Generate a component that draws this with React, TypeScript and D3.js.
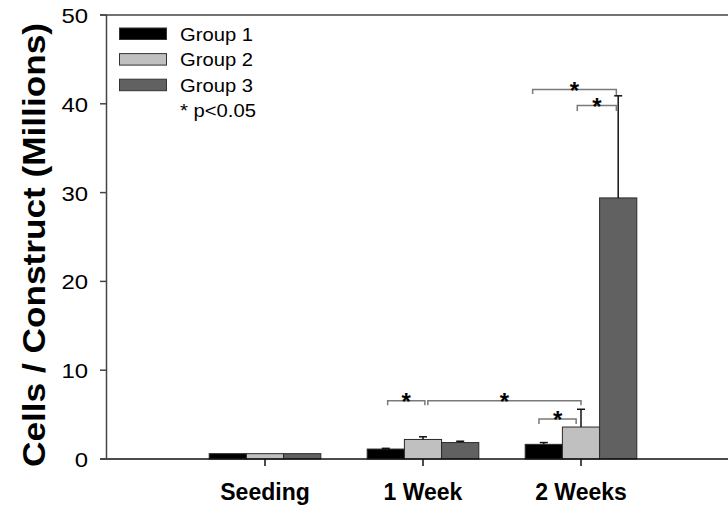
import React from "react";
import * as d3 from "d3";

const categories = ["Seeding", "1 Week", "2 Weeks"];
const groups = ["Group 1", "Group 2", "Group 3"];
const groupColors = ["#000000", "#c0c0c0", "#616161"];
// mean values (millions) per category, per group
const group1 = [0.6, 1.12, 1.65];
const group2 = [0.6, 2.2, 3.6];
const group3 = [0.6, 1.85, 29.4];
// upper error values (mean + sd)
const group1Err = [null, 1.2, 1.85];
const group2Err = [null, 2.5, 5.6];
const group3Err = [null, 2.0, 40.9];
const yTicks = [0, 10, 20, 30, 40, 50];
// significance brackets: from/to = [category index, fractional group position], y = data value
const brackets = [
  { from: [1, 0.05], to: [1, 1.05], y: 6.55, dropL: 0.5, dropR: 0.5 },
  { from: [1, 1.13], to: [2, 1.0], y: 6.55, dropL: 0.5, dropR: 0.5 },
  { from: [2, -0.13], to: [2, 0.87], y: 4.5, dropL: 0.55, dropR: 0.55 },
  { from: [2, -0.3], to: [2, 1.95], y: 41.6, dropL: 0.5, dropR: 0.6 },
  { from: [2, 0.9], to: [2, 1.95], y: 39.8, dropL: 0.6, dropR: 0.6 },
];

const W = 728;
const H = 507;

export default function App() {
  const axisX = 106.5;
  const y = d3.scaleLinear().domain([0, 50]).range([459, 15]);
  const x = d3.scalePoint<string>().domain(categories).range([107, 739]).padding(1);
  const barW = 37.2;
  const g = d3.scaleBand<number>().domain([0, 1, 2]).range([-1.5 * barW, 1.5 * barW]).padding(0);
  const values = [group1, group2, group3];
  const errs = [group1Err, group2Err, group3Err];
  const gx = (ci: number, pos: number) => (x(categories[ci]) as number) + (pos - 1) * barW;

  return (
    <svg
      width={W}
      height={H}
      style={{ position: "absolute", left: 0, top: 0, background: "#fff" }}
      fontFamily="'Liberation Sans', Arial, sans-serif"
    >
      <rect x={0} y={0} width={W} height={H} fill="#fff" />
      {/* bars */}
      {categories.map((c, ci) =>
        groups.map((gr, gi) => {
          const x0 = (x(c) as number) + (g(gi) as number);
          const v = values[gi][ci];
          return (
            <rect
              key={c + gr}
              x={x0}
              y={y(v)}
              width={g.bandwidth()}
              height={y(0) - y(v)}
              fill={groupColors[gi]}
              stroke="#2a2a2a"
              strokeWidth={1}
            />
          );
        })
      )}
      {/* error bars */}
      {categories.map((c, ci) =>
        groups.map((gr, gi) => {
          const e = errs[gi][ci];
          if (e == null) return null;
          const cx = (x(c) as number) + (g(gi) as number) + g.bandwidth() / 2;
          const v = values[gi][ci];
          return (
            <g key={"e" + c + gr} stroke="#111" strokeWidth={1.5}>
              <line x1={cx} x2={cx} y1={y(v)} y2={y(e)} />
              <line x1={cx - 4} x2={cx + 4} y1={y(e)} y2={y(e)} />
            </g>
          );
        })
      )}
      {/* brackets */}
      {brackets.map((b, i) => {
        const x1 = gx(b.from[0], b.from[1]);
        const x2 = gx(b.to[0], b.to[1]);
        const yy = y(b.y);
        const yl = y(b.y - b.dropL);
        const yr = y(b.y - b.dropR);
        return (
          <g key={"b" + i}>
            <path
              d={`M${x1},${yl}V${yy}H${x2}V${yr}`}
              fill="none"
              stroke="#7a7a7a"
              strokeWidth={1.5}
            />
            <text x={(x1 + x2) / 2} y={yy + 9} textAnchor="middle" fontSize={24} fontWeight="bold" fill="#000">
              *
            </text>
          </g>
        );
      })}
      {/* axes */}
      <line x1={100} x2={W} y1={y(0)} y2={y(0)} stroke="#111" strokeWidth={1.5} />
      <line x1={100} x2={W} y1={y(50)} y2={y(50)} stroke="#444" strokeWidth={1.5} />
      <line x1={axisX} x2={axisX} y1={y(50)} y2={y(0)} stroke="#444" strokeWidth={1.5} />
      {yTicks.map((t) => (
        <g key={"yt" + t}>
          <line x1={100} x2={axisX} y1={y(t)} y2={y(t)} stroke="#444" strokeWidth={1.5} />
          <text
            x={88}
            y={y(t) + 8}
            textAnchor="end"
            fontSize={21}
            textLength={String(t).length * 13.3}
            lengthAdjust="spacingAndGlyphs"
            fill="#000"
          >
            {t}
          </text>
        </g>
      ))}
      {categories.map((c) => (
        <g key={"xt" + c}>
          <line x1={x(c) as number} x2={x(c) as number} y1={y(0)} y2={y(0) + 7} stroke="#111" strokeWidth={1.5} />
          <text x={x(c) as number} y={500} textAnchor="middle" fontSize={23} fontWeight="bold" fill="#000">
            {c}
          </text>
        </g>
      ))}
      <text
        transform={`translate(45,245) rotate(-90)`}
        textAnchor="middle"
        fontSize={31}
        fontWeight="bold"
        textLength={444}
        lengthAdjust="spacingAndGlyphs"
        fill="#000"
      >
        Cells / Construct (Millions)
      </text>
      {/* legend */}
      {groups.map((gr, gi) => (
        <g key={"lg" + gr}>
          <rect x={119.5} y={28 + gi * 25.6} width={47} height={11.5} fill={groupColors[gi]} stroke="#333" strokeWidth={1} />
          <text x={180} y={40.5 + gi * 25.6} fontSize={19} textLength={73} lengthAdjust="spacingAndGlyphs" fill="#000">
            {gr}
          </text>
        </g>
      ))}
      <text x={180} y={117} fontSize={19} textLength={76} lengthAdjust="spacingAndGlyphs" fill="#000">
        * p&lt;0.05
      </text>
    </svg>
  );
}
